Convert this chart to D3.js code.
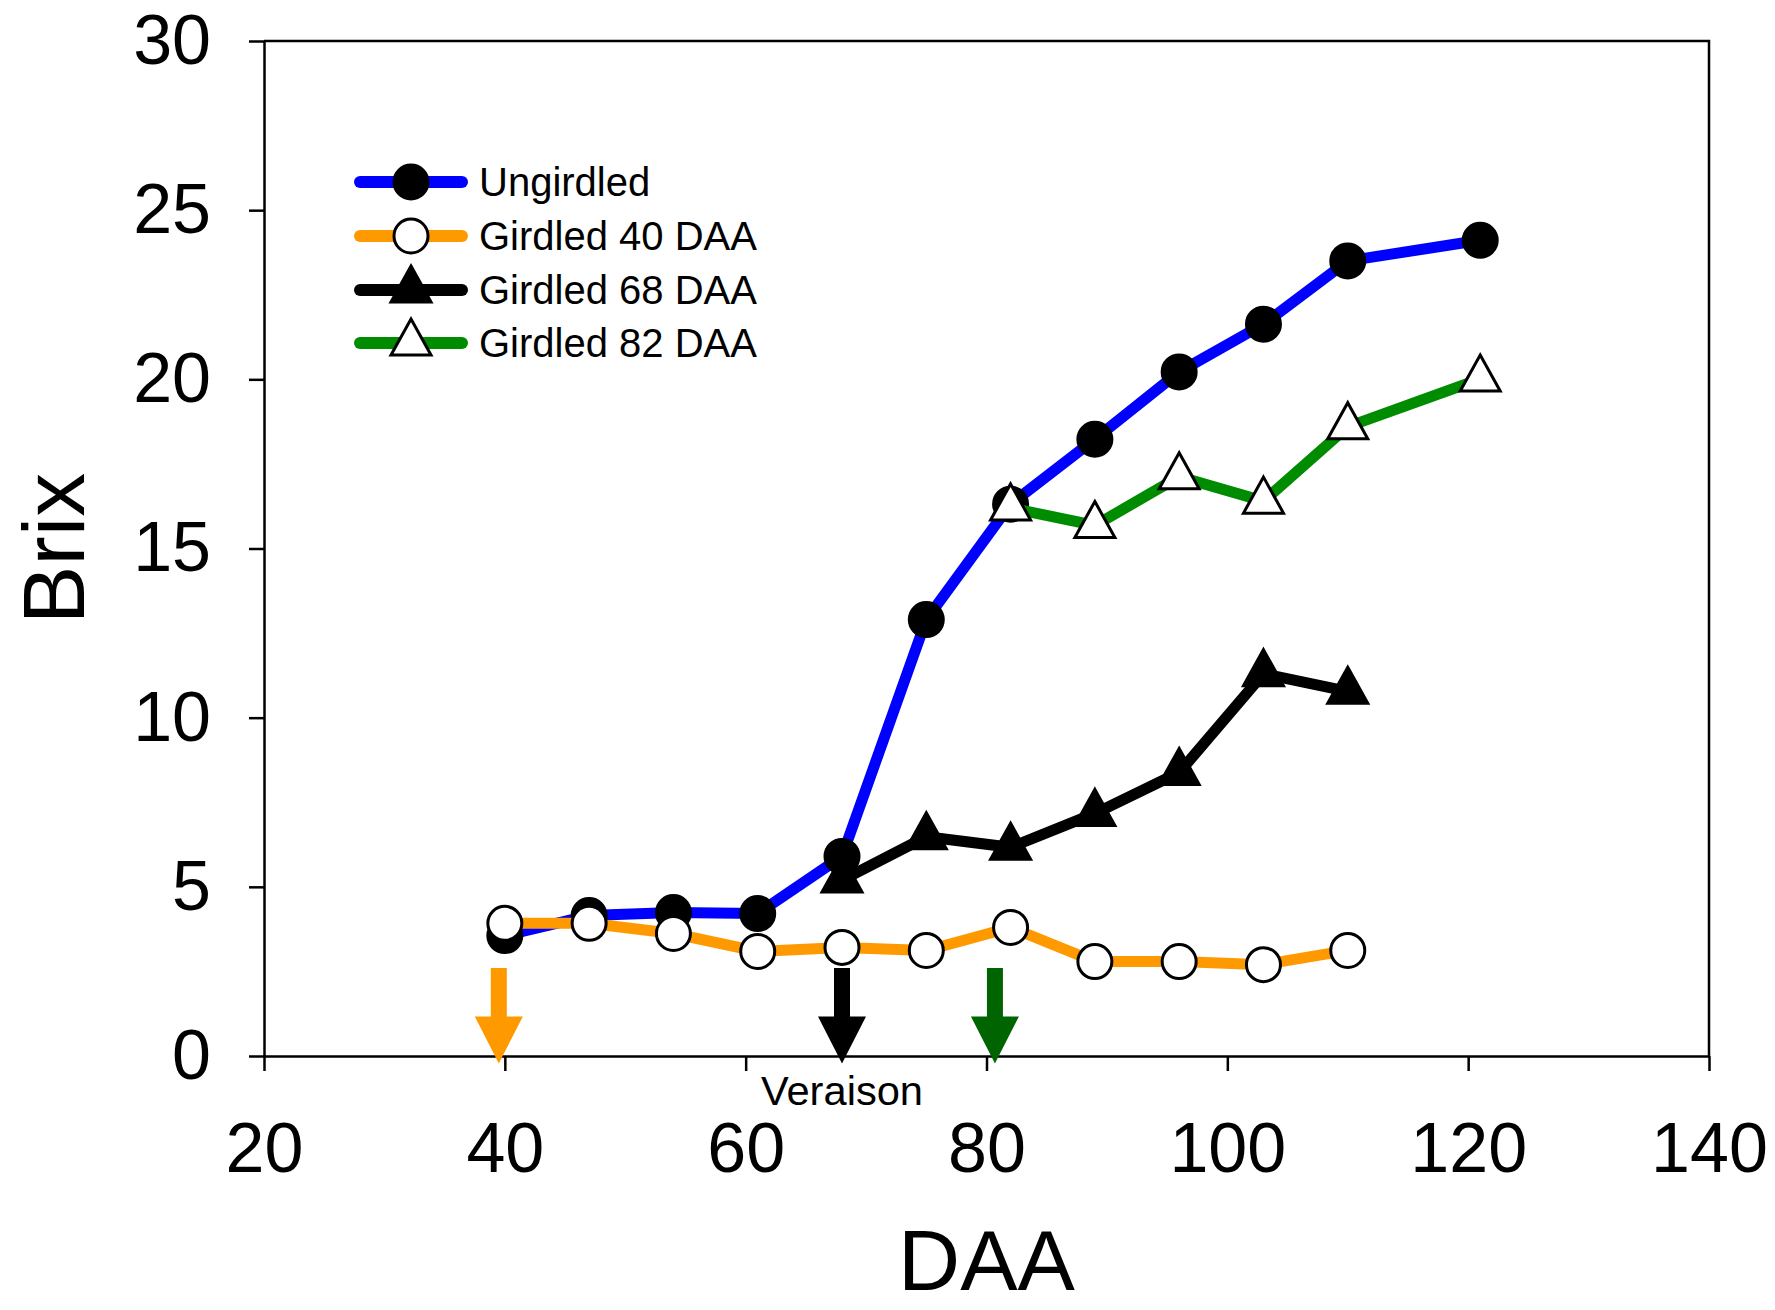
<!DOCTYPE html>
<html>
<head>
<meta charset="utf-8">
<script src="https://cdn.jsdelivr.net/npm/d3@7"></script>
<style>
  body { margin: 0; background: #fff; }
  svg { display: block; font-family: "Liberation Sans", Arial, sans-serif; }
</style>
</head>
<body>
<svg id="chart" width="1775" height="1310"></svg>
<script>
// days after anthesis for each sampling date
const daa = [40, 47, 54, 61, 68, 75, 82, 89, 96, 103, 110, 121];

// Brix values
const ungirdled = [3.56, 4.15, 4.24, 4.21, 5.9, 12.9, 16.31, 18.23, 20.22, 21.63, 23.5, 24.11];
const girdled40 = [3.92, 3.92, 3.62, 3.09, 3.21, 3.12, 3.80, 2.79, 2.79, 2.70, 3.12];
const girdled68 = [5.2, 6.48, 6.17, 7.17, 8.38, 11.3, 10.78];
const girdled82 = [16.2, 15.68, 17.12, 16.4, 18.6, 20.01];

const seriesNames = ["Ungirdled", "Girdled 40 DAA", "Girdled 68 DAA", "Girdled 82 DAA"];
const lineColors = ["#0000ff", "#ff9900", "#000000", "#008c00"];
const markerTypes = ["circleFilled", "circleOpen", "triFilled", "triOpen"];

// girdling dates marked with arrows
const arrowDAA = [39.5, 68, 80.7];
const arrowColors = ["#ff9900", "#000000", "#006400"];

const xTicks = [20, 40, 60, 80, 100, 120, 140];
const yTicks = [0, 5, 10, 15, 20, 25, 30];

const margin = {left: 264, right: 66, top: 41, bottom: 254};
const width = 1775, height = 1310;

const svg = d3.select("#chart");

const x = d3.scaleLinear()
    .domain([20, 140])
    .range([margin.left, width - margin.right]);
const y = d3.scaleLinear()
    .domain([0, 30])
    .range([height - margin.bottom, margin.top]);

const series = [
    {name: seriesNames[0], pts: daa.map((d, i) => [d, ungirdled[i]])},
    {name: seriesNames[1], pts: daa.slice(0, 11).map((d, i) => [d, girdled40[i]])},
    {name: seriesNames[2], pts: daa.slice(4, 11).map((d, i) => [d, girdled68[i]])},
    {name: seriesNames[3], pts: daa.slice(6).map((d, i) => [d, girdled82[i]])}
];

const fontSize = 70;

// axes
const yAxis = svg.append("g")
    .attr("transform", `translate(${margin.left},0)`)
    .call(d3.axisLeft(y).tickValues(yTicks).tickSize(15).tickSizeOuter(0).tickPadding(38));
const xAxis = svg.append("g")
    .attr("transform", `translate(0,${y(0)})`)
    .call(d3.axisBottom(x).tickValues(xTicks).tickSize(15).tickSizeOuter(0));

[yAxis, xAxis].forEach(g => {
    g.select(".domain").attr("stroke", "#000").attr("stroke-width", 2.5);
    g.selectAll(".tick line").attr("stroke", "#000").attr("stroke-width", 2.5);
    g.selectAll(".tick text")
        .attr("fill", "#000")
        .attr("font-family", "Liberation Sans, Arial, sans-serif")
        .attr("font-size", fontSize);
});
xAxis.selectAll(".tick text").attr("y", 116).attr("dy", null);

// box: top and right edges
svg.append("path")
    .attr("d", `M${x(20)},${y(30)}H${x(140)}V${y(0)}`)
    .attr("fill", "none")
    .attr("stroke", "#000")
    .attr("stroke-width", 2.5);

// axis titles
svg.append("text")
    .attr("x", (x(20) + x(140)) / 2)
    .attr("y", 1290)
    .attr("text-anchor", "middle")
    .attr("font-size", 86)
    .text("DAA");
svg.append("text")
    .attr("transform", `translate(84,${(y(0) + y(30)) / 2}) rotate(-90)`)
    .attr("text-anchor", "middle")
    .attr("font-size", 88)
    .text("Brix");

// arrows for girdling dates
const arrowTop = 2.6, arrowTip = -0.22;
const headLen = 47, shaftW = 16, headW = 48;
svg.append("g").selectAll("path")
    .data(arrowDAA)
    .join("path")
    .attr("fill", (d, i) => arrowColors[i])
    .attr("d", d => {
        const cx = x(d), t = y(arrowTop), tip = y(arrowTip), hb = tip - headLen;
        return `M${cx - shaftW / 2},${t}H${cx + shaftW / 2}V${hb}H${cx + headW / 2}` +
               `L${cx},${tip}L${cx - headW / 2},${hb}H${cx - shaftW / 2}Z`;
    });

svg.append("text")
    .attr("x", x(68))
    .attr("y", 1105)
    .attr("text-anchor", "middle")
    .attr("font-size", 40)
    .attr("textLength", 162)
    .attr("lengthAdjust", "spacingAndGlyphs")
    .text("Veraison");

// markers
const triS = 40, triH = 36;
const triPath = `M0,${-triH * 2 / 3}L${triS / 2},${triH / 3}L${-triS / 2},${triH / 3}Z`;

function drawMarker(sel, type) {
    if (type.startsWith("circle")) {
        sel.append("circle")
            .attr("r", 17)
            .attr("fill", type === "circleFilled" ? "#000" : "#fff")
            .attr("stroke", "#000")
            .attr("stroke-width", 3);
    } else {
        sel.append("path")
            .attr("d", triPath)
            .attr("fill", type === "triFilled" ? "#000" : "#fff")
            .attr("stroke", "#000")
            .attr("stroke-width", 3)
            .attr("stroke-linejoin", "miter");
    }
}

const line = d3.line().x(d => x(d[0])).y(d => y(d[1]));

series.forEach((s, k) => {
    const g = svg.append("g");
    g.append("path")
        .datum(s.pts)
        .attr("d", line)
        .attr("fill", "none")
        .attr("stroke", lineColors[k])
        .attr("stroke-width", 11)
        .attr("stroke-linejoin", "miter");
    g.selectAll(".mk")
        .data(s.pts)
        .join("g")
        .attr("class", "mk")
        .attr("transform", d => `translate(${x(d[0])},${y(d[1])})`)
        .each(function() { drawMarker(d3.select(this), markerTypes[k]); });
});

// legend
const legendRows = [182, 236, 290, 343];
const legend = svg.append("g");
seriesNames.forEach((name, k) => {
    const row = legend.append("g").attr("transform", `translate(0,${legendRows[k]})`);
    row.append("line")
        .attr("x1", 360).attr("x2", 462)
        .attr("stroke", lineColors[k])
        .attr("stroke-width", 12)
        .attr("stroke-linecap", "round");
    drawMarker(row.append("g").attr("transform", "translate(411,0)"), markerTypes[k]);
    row.append("text")
        .attr("x", 479)
        .attr("y", 14)
        .attr("font-size", 40)
        .text(name);
});
</script>
</body>
</html>
